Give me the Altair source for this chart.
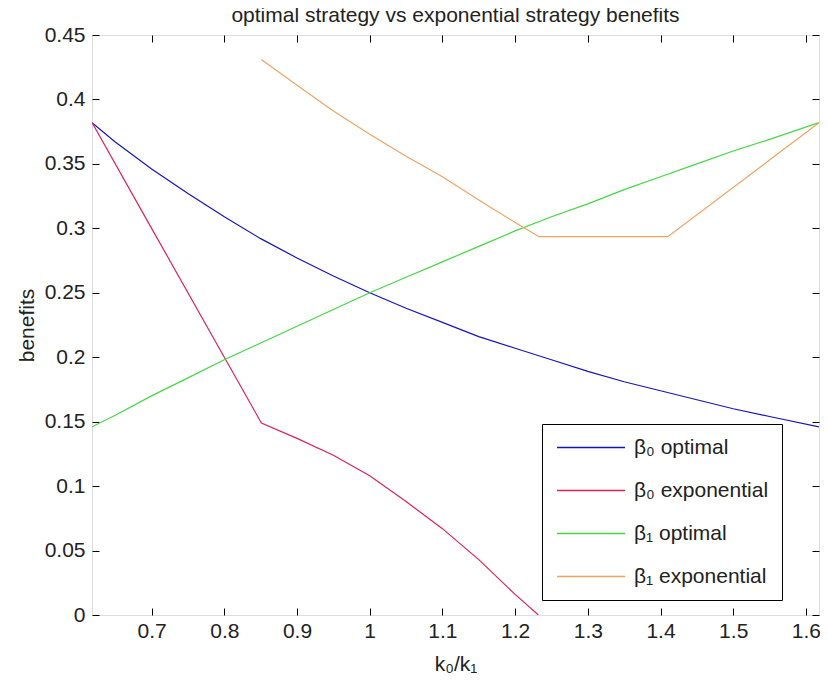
import altair as alt
import pandas as pd

# ---- data ----
x_opt = [0.618, 0.65, 0.7, 0.75, 0.8, 0.85, 0.9, 0.95, 1.0, 1.05, 1.1,
         1.15, 1.2, 1.25, 1.3, 1.35, 1.4, 1.45, 1.5, 1.55, 1.618]
b0_opt = [0.382, 0.367, 0.346, 0.327, 0.309, 0.292, 0.277, 0.263, 0.250, 0.238, 0.227,
          0.216, 0.207, 0.198, 0.189, 0.181, 0.174, 0.167, 0.160, 0.154, 0.146]
b1_opt = [0.146, 0.155, 0.170, 0.184, 0.198, 0.211, 0.224, 0.237, 0.250, 0.262, 0.274,
          0.286, 0.298, 0.309, 0.319, 0.330, 0.340, 0.350, 0.360, 0.369, 0.382]

x_b0_exp = [0.618, 0.7, 0.8, 0.851, 0.9, 0.95, 1.0, 1.05, 1.1, 1.15, 1.2, 1.232]
b0_exp = [0.382, 0.300, 0.200, 0.149, 0.137, 0.124, 0.108, 0.088, 0.067, 0.043, 0.016, 0.0]

x_b1_exp = [0.851, 0.9, 0.95, 1.0, 1.05, 1.1, 1.15, 1.2, 1.215, 1.233, 1.410, 1.564, 1.618]
b1_exp = [0.431, 0.411, 0.391, 0.373, 0.356, 0.340, 0.322, 0.3045, 0.2995, 0.2935, 0.2935, 0.359, 0.382]

series_names = ["β₀ optimal", "β₀ exponential", "β₁ optimal", "β₁ exponential"]
series_colors = ["#1414c4", "#dc2456", "#44d844", "#f2a262"]

x_ticks = [0.7, 0.8, 0.9, 1.0, 1.1, 1.2, 1.3, 1.4, 1.5, 1.6]
y_ticks = [0, 0.05, 0.1, 0.15, 0.2, 0.25, 0.3, 0.35, 0.4, 0.45]

rows = []
for name, xs, ys in [(series_names[0], x_opt, b0_opt),
                     (series_names[1], x_b0_exp, b0_exp),
                     (series_names[2], x_opt, b1_opt),
                     (series_names[3], x_b1_exp, b1_exp)]:
    for i, (a, b) in enumerate(zip(xs, ys)):
        rows.append({"series": name, "x": a, "y": b, "i": i})
df = pd.DataFrame(rows)

FONT = "Liberation Sans"
FS = 21
TICK = 7

xscale = alt.Scale(domain=[0.618, 1.618], nice=False, zero=False)
yscale = alt.Scale(domain=[0, 0.45], nice=False)

lines = alt.Chart(df).mark_line(strokeWidth=1.2, clip=True).encode(
    x=alt.X("x:Q", scale=xscale,
            axis=alt.Axis(orient="bottom", values=x_ticks, format="~g",
                          offset=-TICK, tickSize=TICK, domain=False, grid=False,
                          labelPadding=5, labelFont=FONT, labelFontSize=FS,
                          labelColor="#222", tickColor="black",
                          title="k₀/k₁", titleFont=FONT, titleFontSize=FS,
                          titleFontWeight="normal", titleColor="#222",
                          titleY=62, titleBaseline="alphabetic")),
    y=alt.Y("y:Q", scale=yscale,
            axis=alt.Axis(orient="left", values=y_ticks, format="~g",
                          offset=-TICK, tickSize=TICK, domain=False, grid=False,
                          labelPadding=7, labelFont=FONT, labelFontSize=FS,
                          labelColor="#222", tickColor="black",
                          title="benefits", titleFont=FONT, titleFontSize=FS,
                          titleFontWeight="normal", titleColor="#222",
                          titleX=-72, titleY=290, titleAngle=270,
                          titleAlign="center", titleBaseline="middle")),
    color=alt.Color("series:N",
                    scale=alt.Scale(domain=series_names, range=series_colors),
                    sort=series_names,
                    legend=alt.Legend(title=None, orient="none",
                                      legendX=450, legendY=389,
                                      symbolType="M-1,0H7", symbolSize=289,
                                      symbolStrokeWidth=1.5,
                                      labelFont=FONT, labelFontSize=21,
                                      labelColor="#222", labelOffset=58,
                                      rowPadding=21, padding=13,
                                      strokeColor="black", fillColor="white")),
    detail="series:N",
    order="i:Q",
)

mirror = alt.Chart(df).mark_line(opacity=0).encode(
    x=alt.X("x:Q", scale=xscale,
            axis=alt.Axis(orient="top", values=x_ticks, labels=False, title=None,
                          offset=-TICK, tickSize=TICK, domain=False, grid=False,
                          tickColor="black")),
    y=alt.Y("y:Q", scale=yscale,
            axis=alt.Axis(orient="right", values=y_ticks, labels=False, title=None,
                          offset=-TICK, tickSize=TICK, domain=False, grid=False,
                          tickColor="black")),
    detail="series:N",
)

chart = alt.layer(mirror, lines).resolve_axis(x="independent", y="independent").properties(
    width=727, height=580,
    autosize=alt.AutoSizeParams(type="none"),
    padding={"left": 84, "top": 27, "right": 1, "bottom": 64},
    title=alt.TitleParams("optimal strategy vs exponential strategy benefits",
                          font=FONT, fontSize=FS, fontWeight="normal",
                          color="#222", anchor="middle", offset=8, dy=10),
).configure_view(stroke="black", strokeWidth=1).configure(background="white")

chart.save("out.html", embed_options={"renderer": "svg", "actions": False})
